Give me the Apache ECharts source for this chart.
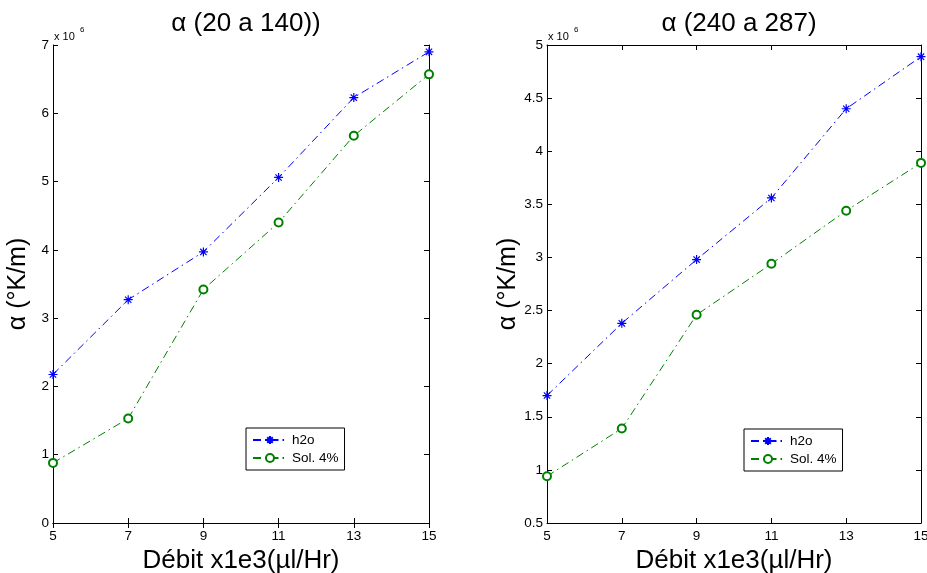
<!DOCTYPE html>
<html><head><meta charset="utf-8">
<script src="https://cdn.jsdelivr.net/npm/echarts@6/dist/echarts.min.js"></script>
<style>html,body{margin:0;padding:0;background:#fff}#c{width:927px;height:573px}</style>
</head><body><div id="c"></div>
<script>
var xValues = [5, 7, 9, 11, 13, 15];
var leftH2o = [2.175, 3.27, 3.97, 5.06, 6.23, 6.90];
var leftSol = [0.88, 1.53, 3.42, 4.40, 5.67, 6.57];
var rightH2o = [1.70, 2.38, 2.98, 3.56, 4.40, 4.89];
var rightSol = [0.94, 1.39, 2.46, 2.94, 3.44, 3.89];
var titles = ['\u03b1 (20 a 140))', '\u03b1 (240 a 287)'];
var seriesNames = ['h2o', 'Sol. 4%'];
var xName = 'D\u00e9bit x1e3(\u00b5l/Hr)';
var yName = '\u03b1 (\u00b0K/m)';

var FONT = 'Liberation Sans, Arial, Helvetica, sans-serif';
var BLUE = '#0000ff', GREEN = '#008000';
var STAR = 'path://M5,0L5,10M0,5L10,5M1.5,1.5L8.5,8.5M1.5,8.5L8.5,1.5';
var DASHDOT = [8, 4, 1.5, 4];

function pairs(xs, ys){ return xs.map(function(x,i){ return [x, ys[i]]; }); }

var grids = [
  {left: 53, top: 45, width: 376, height: 478, outerBoundsMode:'none', containLabel:false},
  {left: 547, top: 45, width: 374, height: 478, outerBoundsMode:'none', containLabel:false}
];
var yRanges = [{min:0,max:7,interval:1},{min:0.5,max:5,interval:0.5}];

var xAxes = [], yAxes = [], series = [], legends = [], graphics = [];
grids.forEach(function(g, i){
  xAxes.push({
    type:'value', gridIndex:i, min:5, max:15, interval:2, position:'bottom',
    name: xName, nameLocation:'middle', nameGap:19,
    nameTextStyle:{fontFamily:FONT, fontSize:26, color:'#000', verticalAlign:'top'},
    axisLine:{lineStyle:{color:'#000', width:1}},
    axisTick:{inside:true, length:5, lineStyle:{color:'#000'}},
    axisLabel:{fontFamily:FONT, fontSize:13.5, color:'#000', margin:6},
    splitLine:{show:false}
  });
  xAxes.push({
    type:'value', gridIndex:i, min:5, max:15, interval:2, position:'top',
    axisLine:{lineStyle:{color:'#000', width:1}},
    axisTick:{inside:true, length:5, lineStyle:{color:'#000'}},
    axisLabel:{show:false}, splitLine:{show:false}
  });
  var r = yRanges[i];
  yAxes.push({
    type:'value', gridIndex:i, min:r.min, max:r.max, interval:r.interval, position:'left',
    name: yName, nameLocation:'middle', nameGap:22, nameRotate:90,
    nameTextStyle:{fontFamily:FONT, fontSize:25, color:'#000'},
    axisLine:{show:true, lineStyle:{color:'#000', width:1}},
    axisTick:{show:true, inside:true, length:5, lineStyle:{color:'#000'}},
    axisLabel:{fontFamily:FONT, fontSize:13.5, color:'#000', margin:4},
    splitLine:{show:false}
  });
  yAxes.push({
    type:'value', gridIndex:i, min:r.min, max:r.max, interval:r.interval, position:'right',
    axisLine:{show:true, lineStyle:{color:'#000', width:1}},
    axisTick:{show:true, inside:true, length:5, lineStyle:{color:'#000'}},
    axisLabel:{show:false}, splitLine:{show:false}
  });
});

var dataSets = [[leftH2o, leftSol],[rightH2o, rightSol]];
dataSets.forEach(function(ds, i){
  series.push({
    name: seriesNames[0], type:'line', xAxisIndex:2*i, yAxisIndex:2*i,
    data: pairs(xValues, ds[0]), symbol: STAR, symbolSize: 9,
    lineStyle:{color:BLUE, width:1, type:DASHDOT},
    itemStyle:{color:BLUE, borderColor:BLUE, borderWidth:1.2},
    animation:false
  });
  series.push({
    name: seriesNames[1], type:'line', xAxisIndex:2*i, yAxisIndex:2*i,
    data: pairs(xValues, ds[1]), symbol:'emptyCircle', symbolSize: 8,
    lineStyle:{color:GREEN, width:1, type:DASHDOT},
    itemStyle:{color:GREEN, borderColor:GREEN, borderWidth:1},
    animation:false
  });
});

var legendPos = [{left:246, top:428},{left:744, top:429}];
legendPos.forEach(function(p){
  legends.push({
    data: seriesNames, orient:'vertical', left:p.left, top:p.top,
    padding:[5,6,5,6], itemGap:4, itemWidth:34, itemHeight:10,
    borderColor:'#000', borderWidth:1, backgroundColor:'#fff',
    textStyle:{fontFamily:FONT, fontSize:13.5, color:'#000'},
    selectedMode:false
  });
});

var titleObjs = titles.map(function(t, i){
  var g = grids[i];
  return {text:t, left: g.left + g.width/2, top: 6, textAlign:'center',
    textStyle:{fontFamily:FONT, fontSize:26, fontWeight:'normal', color:'#000'}};
});

var expPos = [{x:54},{x:548}];
expPos.forEach(function(p){
  graphics.push({type:'text', left:p.x, top:31, style:{text:'x 10', font:'11px ' + FONT, fill:'#000'}});
  graphics.push({type:'text', left:p.x+26, top:26, style:{text:'6', font:'8px ' + FONT, fill:'#000'}});
});

var chart = echarts.init(document.getElementById('c'), null, {renderer:'canvas'});
chart.setOption({
  animation:false,
  backgroundColor:'#fff',
  title: titleObjs,
  grid: grids,
  xAxis: xAxes,
  yAxis: yAxes,
  legend: legends,
  series: series,
  graphic: graphics
});
</script></body></html>
